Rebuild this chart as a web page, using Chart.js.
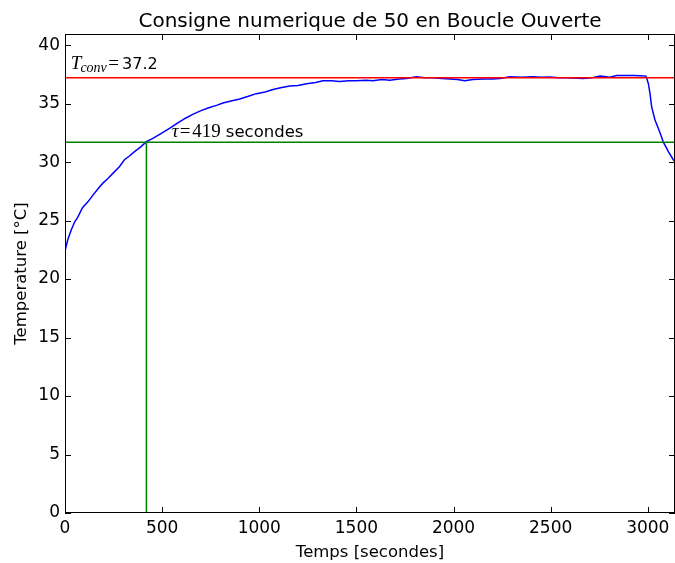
<!DOCTYPE html>
<html>
<head>
<meta charset="utf-8">
<script src="https://cdn.jsdelivr.net/npm/chart.js@4/dist/chart.umd.min.js"></script>
<style>
  html, body { margin: 0; padding: 0; background: #fff; }
  #wrap { width: 675px; height: 563px; }
</style>
</head>
<body>
<div id="wrap"><canvas id="graphe" width="675" height="563"></canvas></div>
<script>
// temps (s) et temperature (°C)
const temps = [0, 15, 32, 50, 66, 90, 118, 145, 169, 195, 221, 250, 280, 306, 330, 358, 390, 419,
  450, 496, 540, 581, 620, 660, 700, 740, 780, 813, 860, 899, 940, 985, 1030, 1071, 1110, 1157,
  1200, 1243, 1290, 1328, 1370, 1414, 1460, 1500, 1550, 1586, 1630, 1672, 1720, 1758, 1809, 1850,
  1895, 1940, 1981, 2020, 2058, 2100, 2153, 2200, 2239, 2290, 2350, 2410, 2450, 2496, 2540, 2582,
  2620, 2668, 2710, 2754, 2805, 2840, 2880, 2925, 2960, 2991, 3003, 3011, 3020, 3037, 3063, 3080,
  3106, 3131, 3140];
const temperature = [22.4, 23.4, 24.2, 24.9, 25.3, 26.1, 26.6, 27.2, 27.7, 28.2, 28.6, 29.1, 29.6,
  30.2, 30.5, 30.9, 31.3, 31.75, 32.0, 32.45, 32.9, 33.35, 33.75, 34.1, 34.4, 34.65, 34.85, 35.05,
  35.25, 35.4, 35.6, 35.85, 36.0, 36.2, 36.35, 36.5, 36.55, 36.7, 36.8, 36.95, 36.95, 36.9, 36.95,
  36.95, 37.0, 36.95, 37.05, 37.0, 37.1, 37.15, 37.3, 37.2, 37.2, 37.15, 37.1, 37.05, 36.95, 37.05,
  37.1, 37.1, 37.15, 37.3, 37.25, 37.3, 37.25, 37.28, 37.22, 37.2, 37.18, 37.15, 37.2, 37.35, 37.25,
  37.4, 37.4, 37.4, 37.38, 37.35, 36.7, 35.9, 34.7, 33.6, 32.5, 31.7, 30.9, 30.2, 30.05];

const tConv = 37.2;
const tauSec = 419;
const tempTau = 31.7;
const xMax = 3140;
const yMax = 40.95;

const xTicks = [0, 500, 1000, 1500, 2000, 2500, 3000];
const yTicks = [0, 5, 10, 15, 20, 25, 30, 35, 40];

const courbe = temps.map((t, i) => ({ x: t, y: temperature[i] }));

// cadre + graduations vers l'interieur, sur les 4 cotes
const cadre = {
    id: 'cadre',
    afterDatasetsDraw(chart) {
        const { ctx, chartArea: a, scales } = chart;
        ctx.save();
        ctx.strokeStyle = '#000';
        ctx.lineWidth = 1;
        ctx.beginPath();
        xTicks.forEach(v => {
            const px = Math.round(scales.x.getPixelForValue(v)) + 0.5;
            ctx.moveTo(px, a.bottom); ctx.lineTo(px, a.bottom - 6);
            ctx.moveTo(px, a.top); ctx.lineTo(px, a.top + 6);
        });
        yTicks.forEach(v => {
            const py = Math.round(scales.y.getPixelForValue(v)) + 0.5;
            ctx.moveTo(a.left, py); ctx.lineTo(a.left + 6, py);
            ctx.moveTo(a.right, py); ctx.lineTo(a.right - 6, py);
        });
        ctx.stroke();
        ctx.strokeRect(a.left + 0.5, a.top + 0.5, a.right - a.left - 1, a.bottom - a.top - 1);

        // annotations
        ctx.fillStyle = '#000';
        ctx.textBaseline = 'alphabetic';
        let x = scales.x.getPixelForValue(30);
        let y = scales.y.getPixelForValue(38.0);
        ctx.font = 'italic 19px "Liberation Serif"';
        ctx.fillText('T', x, y);
        x += ctx.measureText('T').width - 1;
        ctx.font = 'italic 14px "Liberation Serif"';
        ctx.fillText('conv', x, y + 3);
        x += ctx.measureText('conv').width + 1.5;
        ctx.font = '19px "Liberation Serif"';
        ctx.fillText('=', x, y);
        x += ctx.measureText('=').width + 3;
        ctx.font = '16px "DejaVu Sans"';
        ctx.fillText('37.2', x, y);

        x = scales.x.getPixelForValue(550);
        y = scales.y.getPixelForValue(32.15);
        ctx.font = 'italic 19px "Liberation Serif"';
        ctx.fillText('\u03c4', x, y);
        x += ctx.measureText('\u03c4').width + 1;
        ctx.font = '19px "Liberation Serif"';
        ctx.fillText('=', x, y);
        x += ctx.measureText('=').width + 2;
        ctx.fillText('419', x, y);
        x += ctx.measureText('419').width + 5;
        ctx.font = '16.5px "DejaVu Sans"';
        ctx.fillText('secondes', x, y);
        ctx.restore();
    }
};

new Chart(document.getElementById('graphe'), {
    type: 'scatter',
    data: {
        datasets: [
            {
                data: [{ x: 0, y: tConv }, { x: xMax, y: tConv }],
                borderColor: '#ff0000', borderWidth: 1.5, showLine: true, pointRadius: 0
            },
            {
                data: [{ x: 0, y: tempTau }, { x: xMax, y: tempTau }],
                borderColor: '#008000', borderWidth: 1.5, showLine: true, pointRadius: 0
            },
            {
                data: [{ x: tauSec, y: 0 }, { x: tauSec, y: tempTau }],
                borderColor: '#008000', borderWidth: 1.5, showLine: true, pointRadius: 0
            },
            {
                data: courbe,
                borderColor: '#0000ff', borderWidth: 1.5, showLine: true, pointRadius: 0, tension: 0
            }
        ]
    },
    options: {
        responsive: false,
        animation: false,
        events: [],
        layout: { padding: 0 },
        plugins: {
            legend: { display: false },
            tooltip: { enabled: false },
            title: {
                display: true,
                text: 'Consigne numerique de 50 en Boucle Ouverte',
                color: '#000',
                fullSize: false,
                font: { family: '"DejaVu Sans"', size: 20, weight: 'normal', lineHeight: 1.2 },
                padding: { top: 10, bottom: 0 }
            }
        },
        scales: {
            x: {
                type: 'linear',
                min: 0,
                max: xMax,
                afterFit(s) { s.height = 50; },
                afterBuildTicks(s) { s.ticks = xTicks.map(v => ({ value: v })); },
                grid: { display: false, drawTicks: false },
                border: { display: false },
                ticks: {
                    color: '#000', padding: 5,
                    font: { family: '"DejaVu Sans"', size: 17 },
                    callback: v => String(v)
                },
                title: {
                    display: true, text: 'Temps [secondes]', color: '#000',
                    font: { family: '"DejaVu Sans"', size: 16.5 },
                    padding: { top: 0, bottom: 0 }
                }
            },
            y: {
                min: 0,
                max: yMax,
                afterFit(s) { s.width = 65; },
                afterBuildTicks(s) { s.ticks = yTicks.map(v => ({ value: v })); },
                grid: { display: false, drawTicks: false },
                border: { display: false },
                ticks: {
                    color: '#000', padding: 5,
                    font: { family: '"DejaVu Sans"', size: 17 },
                    callback: v => String(v)
                },
                title: {
                    display: true, text: 'Temperature [°C]', color: '#000',
                    font: { family: '"DejaVu Sans"', size: 16.5 },
                    padding: { top: 12, bottom: 0 }
                }
            }
        }
    },
    plugins: [cadre]
});
</script>
</body>
</html>
